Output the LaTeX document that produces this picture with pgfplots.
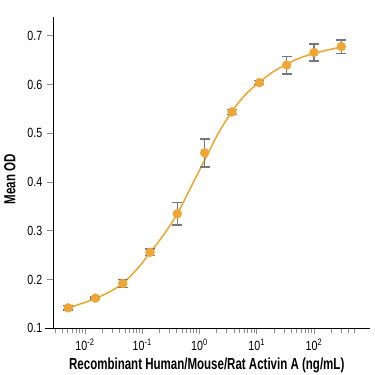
\documentclass[border=0pt]{standalone}
\usepackage{pgfplots}
\pgfplotsset{compat=1.18}
\usepackage{fontspec}
\setmainfont{Liberation Sans}[FakeStretch=0.80]
\newfontfamily\labelfont{Liberation Sans}[FakeStretch=0.72]
\definecolor{curveor}{RGB}{242,162,40}
\definecolor{markor}{RGB}{238,166,52}
\definecolor{ebgray}{RGB}{118,118,128}
\definecolor{tickgray}{RGB}{140,140,140}
\begin{document}
\begin{tikzpicture}
\begin{axis}[
  scale only axis,
  width=237.75pt, height=233.25pt,
  xmode=log,
  xmin=0.00276, xmax=951,
  ymin=0.1, ymax=0.738,
  axis x line*=bottom, axis y line*=left,
  axis line style={-, black, line width=0.7pt},
  x axis line style={shorten <=-6pt},
  xtick={0.01,0.1,1,10,100},
  xticklabels={10\textsuperscript{-2},10\textsuperscript{-1},10\textsuperscript{0},10\textsuperscript{1},10\textsuperscript{2}},
  minor xtick={0.003,0.004,0.005,0.006,0.007,0.008,0.009,
    0.02,0.03,0.04,0.05,0.06,0.07,0.08,0.09,
    0.2,0.3,0.4,0.5,0.6,0.7,0.8,0.9,
    2,3,4,5,6,7,8,9,
    20,30,40,50,60,70,80,90,
    200,300,400,500},
  ytick={0.1,0.2,0.3,0.4,0.5,0.6,0.7},
  tick align=outside,
  major tick length=4.5pt,
  minor tick length=3.5pt,
  every tick/.style={tickgray, line width=0.7pt},
  tick label style={font=\fontsize{10pt}{11pt}\selectfont, black},
  /pgf/number format/assume math mode=true,
  y tick label style={/pgf/number format/.cd, fixed, fixed zerofill, precision=1},
  xlabel={\textbf{Recombinant Human/Mouse/Rat Activin A (ng/mL)}},
  ylabel={\textbf{Mean OD}},
  label style={font=\labelfont\fontsize{12pt}{13pt}\selectfont},
  x label style={at={(axis description cs:0.485,0)}, anchor=base, yshift=-30.5pt},
  y label style={at={(axis description cs:-0.136,0.48)}, anchor=center},
  clip=false,
]
% fitted curve
\addplot[curveor, line width=1.1pt, smooth, tension=0.5] coordinates {
 (0.0045,0.140) (0.00508,0.142) (0.0088,0.151) (0.0152,0.161) (0.026,0.174)
 (0.0457,0.192) (0.079,0.220) (0.137,0.255) (0.237,0.292) (0.41,0.335)
 (0.71,0.390) (1.23,0.445) (2.13,0.500) (3.7,0.545) (6.4,0.580)
 (11.1,0.605) (19.2,0.626) (33.3,0.642) (57.7,0.655) (100,0.664)
 (173,0.671) (300,0.677) (340,0.678)
};
% data markers
\addplot[only marks, color=markor, mark=*, mark size=3.3pt, mark options={fill=markor, draw=markor}] coordinates {
 (0.00508,0.142) (0.0152,0.162) (0.0457,0.192) (0.137,0.256) (0.41,0.335)
 (1.23,0.460) (3.7,0.544) (11.1,0.604) (33.3,0.640) (100,0.666) (300,0.678)
};
% error bars
\addplot[draw=none, mark=none,
  error bars/.cd, y dir=both, y explicit,
  error bar style={ebgray, line width=1.2pt},
  error mark options={rotate=90, mark size=3.8pt, ebgray, line width=1.2pt}]
 coordinates {
 (0.00508,0.142) +- (0,0.005)
 (0.0152,0.162) +- (0,0.002)
 (0.0457,0.192) +- (0,0.008)
 (0.137,0.256) +- (0,0.007)
 (0.41,0.335) +- (0,0.023)
 (1.23,0.460) +- (0,0.029)
 (3.7,0.544) +- (0,0.005)
 (11.1,0.604) +- (0,0.004)
 (33.3,0.640) +- (0,0.018)
 (100,0.666) +- (0,0.017)
 (300,0.678) +- (0,0.014)
};
\end{axis}
\pgfresetboundingbox
\path (-39.75pt,-35pt) rectangle (241.5pt,246.25pt);
\end{tikzpicture}
\end{document}
